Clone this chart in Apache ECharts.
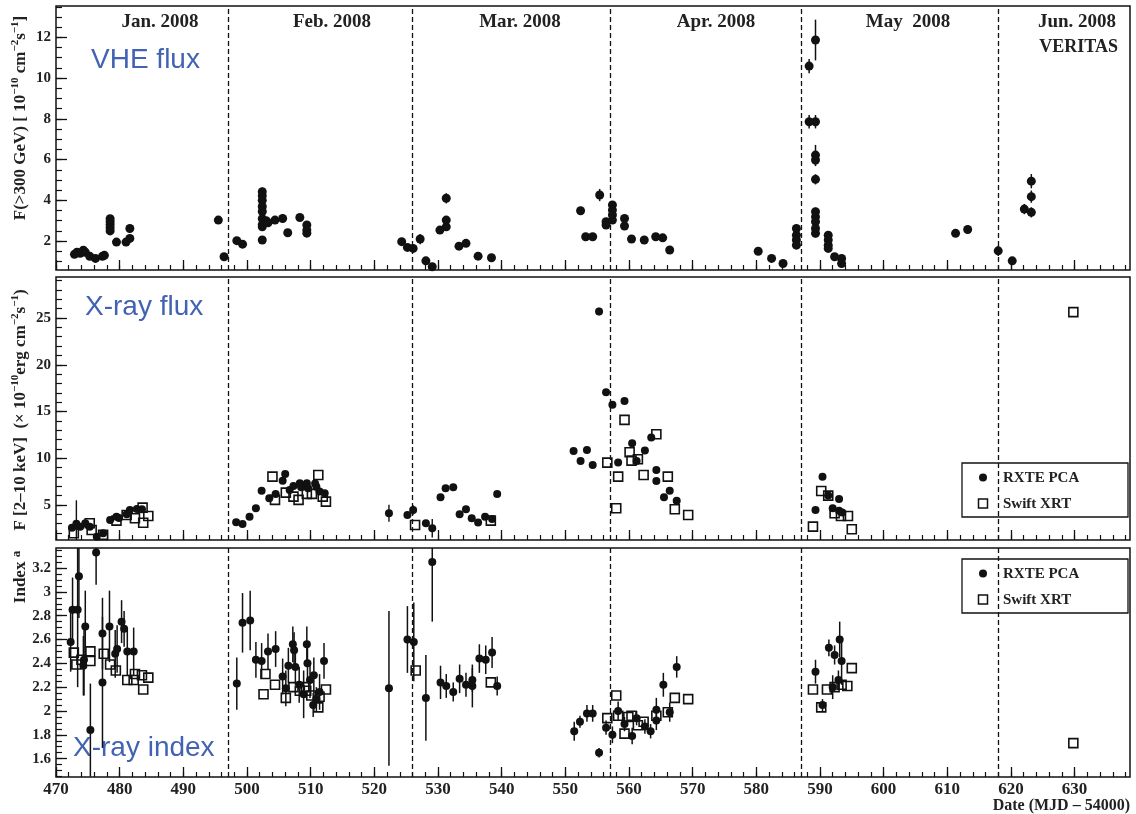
<!DOCTYPE html>
<html>
<head>
<meta charset="utf-8">
<script src="https://cdn.jsdelivr.net/npm/echarts@6/dist/echarts.min.js"></script>
<style>
  html, body { margin: 0; padding: 0; background: #fff; }
  #chart { width: 1136px; height: 814px; }
</style>
</head>
<body>
<div id="chart"></div>
<script>
// Mrk 421 multiwavelength light curves, Jan - Jun 2008 (MJD - 54000)

// Month boundaries (start of Feb .. Jun) and month headers
const monthEdges = [497, 526, 557, 587, 618];
const monthNames = ['Jan. 2008', 'Feb. 2008', 'Mar. 2008', 'Apr. 2008', 'May  2008', 'Jun. 2008'];

// Axis tick values
const xMajorTicks = [470, 480, 490, 500, 510, 520, 530, 540, 550, 560, 570, 580, 590, 600, 610, 620, 630];
const vheTicks = [2, 4, 6, 8, 10, 12];
const xrayTicks = [5, 10, 15, 20, 25];
const indexTicks = [1.6, 1.8, 2, 2.2, 2.4, 2.6, 2.8, 3, 3.2];

// VERITAS F(>300 GeV) [1e-10 cm^-2 s^-1]: [MJD-54000, flux, error]
const vheFlux = [
  [472.9, 1.35, 0.1], [473.3, 1.45, 0.1], [473.8, 1.40, 0.1], [474.3, 1.55, 0.1], [474.6, 1.45, 0.1],
  [475.3, 1.25, 0.1], [476.2, 1.15, 0.1], [477.3, 1.25, 0.1], [477.6, 1.30, 0.1],
  [478.5, 3.10, 0.15], [478.5, 2.95, 0.15], [478.5, 2.80, 0.15], [478.5, 2.65, 0.15], [478.5, 2.50, 0.15],
  [479.5, 1.95, 0.1], [481.0, 1.95, 0.1], [481.6, 2.62, 0.15], [481.6, 2.13, 0.15],
  [495.5, 3.03, 0.15], [496.4, 1.23, 0.15],
  [498.4, 2.02, 0.15], [499.3, 1.85, 0.15],
  [502.4, 4.42, 0.2], [502.4, 4.22, 0.2], [502.4, 4.00, 0.2], [502.4, 3.70, 0.2], [502.4, 3.45, 0.2],
  [502.4, 3.10, 0.2], [502.4, 2.80, 0.2], [502.4, 2.70, 0.2], [502.4, 2.05, 0.15],
  [503.0, 3.00, 0.15], [503.3, 2.90, 0.15], [504.4, 3.03, 0.15], [505.6, 3.11, 0.2], [506.4, 2.41, 0.15],
  [508.3, 3.16, 0.15], [509.4, 2.79, 0.15], [509.4, 2.54, 0.15], [509.4, 2.39, 0.15],
  [524.3, 1.97, 0.1], [525.2, 1.69, 0.1], [526.1, 1.64, 0.1], [527.2, 2.10, 0.25], [528.1, 1.03, 0.15],
  [529.1, 0.74, 0.15], [530.3, 2.54, 0.15], [531.3, 4.10, 0.25], [531.3, 3.03, 0.2], [531.3, 2.70, 0.2],
  [533.3, 1.75, 0.1], [534.4, 1.89, 0.1], [536.3, 1.26, 0.1], [538.4, 1.18, 0.1],
  [552.4, 3.49, 0.15], [553.2, 2.21, 0.15], [554.3, 2.21, 0.15], [555.4, 4.26, 0.3], [556.4, 2.79, 0.15],
  [556.4, 2.95, 0.15], [557.4, 3.77, 0.15], [557.4, 3.52, 0.15], [557.4, 3.28, 0.15], [557.4, 3.03, 0.15],
  [559.3, 3.11, 0.15], [559.3, 2.74, 0.15], [560.4, 2.10, 0.15], [562.4, 2.05, 0.1], [564.2, 2.21, 0.1],
  [565.3, 2.16, 0.1], [566.4, 1.56, 0.1], [580.3, 1.50, 0.1], [582.4, 1.15, 0.1], [584.2, 0.90, 0.1],
  [586.3, 2.62, 0.15], [586.3, 2.29, 0.15], [586.3, 2.05, 0.15], [586.3, 1.80, 0.15],
  [588.3, 10.59, 0.35], [589.3, 11.87, 1.0], [588.3, 7.86, 0.33], [589.3, 7.86, 0.33],
  [589.3, 6.22, 0.5], [589.3, 5.98, 0.3], [589.3, 5.03, 0.25],
  [589.3, 3.44, 0.2], [589.3, 3.19, 0.2], [589.3, 2.95, 0.2], [589.3, 2.62, 0.2], [589.3, 2.38, 0.2],
  [591.3, 2.29, 0.15], [591.3, 2.05, 0.15], [591.3, 1.80, 0.15], [591.3, 1.64, 0.15],
  [592.3, 1.23, 0.1], [593.4, 1.15, 0.1], [593.4, 0.90, 0.1],
  [611.3, 2.38, 0.15], [613.2, 2.57, 0.2],
  [618.0, 1.52, 0.25], [620.2, 1.03, 0.15], [622.1, 3.57, 0.25],
  [623.2, 4.94, 0.35], [623.2, 4.18, 0.3], [623.2, 3.41, 0.25]
];

// RXTE PCA F(2-10 keV) [1e-10 erg cm^-2 s^-1]: [MJD-54000, flux, error]
const pcaFlux = [
  [472.5, 2.57, 0.3], [473.2, 3.00, 2.5], [473.8, 2.68, 0.3], [474.6, 3.04, 0.3], [475.3, 2.68, 0.3],
  [476.4, 1.61, 0.3], [477.4, 1.97, 0.3], [478.5, 3.39, 0.3], [479.5, 3.75, 0.3], [479.9, 3.60, 0.3],
  [481.1, 4.00, 0.3], [481.6, 4.46, 0.3], [482.7, 4.57, 0.3], [483.5, 4.54, 0.3],
  [498.3, 3.15, 0.2], [499.3, 2.97, 0.2], [500.4, 3.75, 0.2], [501.4, 4.65, 0.2], [502.3, 6.53, 0.2],
  [503.5, 5.72, 0.2], [504.5, 6.18, 0.2], [505.6, 7.60, 0.2], [506.0, 8.32, 0.2], [506.7, 6.60, 0.2],
  [507.3, 7.03, 0.2], [508.3, 7.32, 0.2], [508.5, 6.90, 0.2], [509.4, 7.32, 0.2], [509.6, 6.79, 0.2],
  [510.7, 7.30, 0.2], [510.9, 6.96, 0.2], [511.4, 6.43, 0.2], [512.2, 6.25, 0.2],
  [522.3, 4.11, 0.9], [525.2, 3.93, 0.3], [526.1, 4.46, 0.5], [528.1, 3.04, 0.3], [529.1, 2.51, 1.0],
  [530.4, 5.82, 0.3], [531.2, 6.79, 0.3], [532.4, 6.89, 0.3], [533.4, 4.00, 0.3], [534.4, 4.54, 0.3],
  [535.3, 3.58, 0.3], [536.3, 3.11, 0.3], [537.4, 3.75, 0.3], [538.5, 3.50, 0.3], [539.3, 6.18, 0.3],
  [551.3, 10.78, 0.3], [552.4, 9.71, 0.3], [553.4, 10.89, 0.3], [554.3, 9.28, 0.3], [555.3, 25.70, 0.4],
  [556.4, 17.07, 0.3], [557.4, 15.71, 0.3], [558.3, 9.53, 0.3], [559.3, 16.13, 0.3], [560.5, 11.60, 0.3],
  [561.2, 9.70, 0.3], [562.5, 10.82, 0.3], [563.5, 12.21, 0.3], [564.3, 8.75, 0.3], [564.3, 7.57, 0.3],
  [565.5, 5.82, 0.3], [566.4, 6.53, 0.3], [567.5, 5.46, 0.3],
  [589.3, 4.46, 0.3], [590.4, 8.03, 0.3], [591.3, 6.00, 0.3], [592.0, 4.65, 0.3], [593.0, 5.64, 0.3],
  [593.0, 4.39, 0.3], [593.5, 4.18, 0.3]
];

// Swift XRT F(2-10 keV): [MJD-54000, flux]
const xrtFlux = [
  [472.8, 1.97], [475.3, 3.04], [475.6, 2.32], [477.4, 1.80], [479.5, 3.32], [481.1, 3.93],
  [482.4, 3.58], [483.6, 4.71], [483.7, 3.10], [484.5, 3.82],
  [504.0, 8.03], [504.4, 5.54], [506.1, 6.32], [507.3, 5.89], [508.1, 5.54], [509.4, 6.18],
  [510.2, 6.18], [511.2, 8.21], [511.9, 5.89], [512.4, 5.36],
  [526.4, 2.86], [538.3, 3.32],
  [556.6, 9.53], [558.0, 4.65], [558.3, 8.03], [559.3, 14.10], [560.1, 10.64], [560.4, 9.74],
  [561.4, 9.89], [562.3, 8.21], [564.3, 12.57], [566.1, 8.03], [567.2, 4.54], [569.3, 3.93],
  [588.9, 2.68], [590.2, 6.50], [591.3, 6.00], [592.3, 4.11], [593.3, 3.82], [594.4, 3.82], [595.0, 2.40],
  [629.8, 25.63]
];

// RXTE PCA photon index: [MJD-54000, index, error]
const pcaIndex = [
  [472.3, 2.58, 0.25], [472.6, 2.85, 0.27], [473.4, 2.85, 0.65], [473.6, 3.13, 0.35], [474.3, 2.38, 0.25],
  [474.4, 2.43, 0.3], [474.6, 2.71, 0.3], [475.4, 1.84, 0.39], [476.3, 3.33, 0.27], [477.3, 2.65, 0.3],
  [477.3, 2.24, 0.55], [478.4, 2.71, 0.3], [479.3, 2.48, 0.2], [479.6, 2.52, 0.2], [480.3, 2.75, 0.18],
  [480.7, 2.69, 0.15], [481.2, 2.50, 0.2], [482.2, 2.50, 0.2],
  [498.4, 2.23, 0.22], [499.3, 2.74, 0.25], [500.5, 2.76, 0.25], [501.4, 2.43, 0.15], [502.3, 2.42, 0.15],
  [503.3, 2.50, 0.15], [504.5, 2.52, 0.15], [505.6, 2.29, 0.15], [506.1, 2.19, 0.15], [506.5, 2.38, 0.15],
  [507.2, 2.56, 0.15], [507.4, 2.51, 0.15], [507.6, 2.37, 0.15], [508.2, 2.22, 0.15], [508.9, 2.14, 0.2],
  [509.4, 2.56, 0.15], [509.5, 2.40, 0.15], [509.9, 2.26, 0.15], [510.4, 2.05, 0.1], [510.5, 2.30, 0.15],
  [510.9, 2.10, 0.1], [511.4, 2.16, 0.15], [512.1, 2.42, 0.15],
  [522.3, 2.19, 0.65], [525.2, 2.60, 0.28], [526.2, 2.58, 0.33], [528.1, 2.11, 0.36], [529.1, 3.25, 0.5],
  [530.4, 2.24, 0.14], [531.3, 2.21, 0.1], [532.4, 2.16, 0.08], [533.4, 2.27, 0.12], [534.4, 2.22, 0.1],
  [535.4, 2.26, 0.1], [535.4, 2.21, 0.18], [536.5, 2.44, 0.12], [537.5, 2.43, 0.12], [538.5, 2.49, 0.13],
  [539.3, 2.21, 0.08],
  [551.4, 1.83, 0.08], [552.3, 1.91, 0.05], [553.4, 1.98, 0.07], [554.3, 1.98, 0.07], [555.3, 1.65, 0.04],
  [556.4, 1.86, 0.06], [557.4, 1.80, 0.07], [558.3, 2.00, 0.08], [559.3, 1.89, 0.06], [560.5, 1.79, 0.07],
  [561.2, 1.94, 0.06], [562.5, 1.87, 0.06], [563.4, 1.83, 0.06], [564.3, 2.01, 0.1], [564.3, 1.92, 0.08],
  [565.4, 2.22, 0.1], [566.4, 1.99, 0.08], [567.5, 2.37, 0.09],
  [589.3, 2.33, 0.1], [590.4, 2.05, 0.05], [591.4, 2.53, 0.07], [592.0, 2.20, 0.1], [592.3, 2.47, 0.08],
  [592.9, 2.26, 0.08], [593.1, 2.60, 0.15], [593.4, 2.42, 0.2]
];

// Swift XRT photon index: [MJD-54000, index]
const xrtIndex = [
  [472.8, 2.49], [473.2, 2.39], [474.0, 2.43], [475.4, 2.50], [475.4, 2.42], [477.5, 2.48], [478.5, 2.39],
  [479.4, 2.34], [481.2, 2.26], [482.2, 2.26], [482.4, 2.31], [483.5, 2.30], [483.7, 2.18], [484.5, 2.28],
  [502.6, 2.14], [502.9, 2.31], [504.4, 2.22], [506.1, 2.11], [507.3, 2.20], [508.3, 2.17], [509.0, 2.20],
  [509.3, 2.17], [510.1, 2.13], [511.2, 2.03], [511.4, 2.12], [512.4, 2.18],
  [526.5, 2.34], [538.3, 2.24],
  [556.6, 1.94], [558.0, 2.13], [558.3, 1.96], [559.3, 1.81], [559.9, 1.95], [560.4, 1.96], [561.4, 1.88],
  [562.3, 1.91], [564.3, 1.96], [566.1, 1.99], [567.2, 2.11], [569.3, 2.10],
  [588.9, 2.18], [590.2, 2.03], [591.1, 2.18], [592.3, 2.20], [593.4, 2.22], [594.3, 2.21], [595.0, 2.36],
  [629.8, 1.73]
];

// ---------------------------------------------------------------------------
const INK = '#111';
const BLUE = '#4263b3';
const SERIF = "'Liberation Serif', 'Times New Roman', serif";
const SANS = "'Liberation Sans', Arial, sans-serif";
const X_MIN = 470, X_MAX = 638.7;

function stepValues(from, to, step) {
  const out = [];
  for (let v = from; v <= to + 1e-9; v += step) out.push(Math.round(v * 1000) / 1000);
  return out;
}

const grids = [
  { left: 56, right: 6, top: 6, height: 264 },
  { left: 56, right: 6, top: 277, height: 263 },
  { left: 56, right: 6, top: 548, height: 229 }
].map(g => Object.assign({ show: true, borderColor: INK, borderWidth: 1.5, backgroundColor: 'transparent' }, g));

const tickLabel = { fontFamily: SERIF, fontWeight: 'bold', color: '#222' };

function xAxes(gridIndex, withLabels) {
  const base = { type: 'value', gridIndex, min: X_MIN, max: X_MAX, position: 'bottom', splitLine: { show: false } };
  return [
    Object.assign({}, base, {
      axisLine: { show: false },
      axisTick: { show: true, inside: true, length: 10, customValues: xMajorTicks, lineStyle: { color: INK, width: 1.3 } },
      axisLabel: withLabels
        ? Object.assign({ show: true, fontSize: 17, margin: 4, customValues: xMajorTicks }, tickLabel)
        : { show: false }
    }),
    Object.assign({}, base, {
      axisLine: { show: false },
      axisTick: { show: true, inside: true, length: 5, customValues: stepValues(470, 638, 2), lineStyle: { color: INK, width: 1.2 } },
      axisLabel: { show: false }
    })
  ];
}

function yAxes(gridIndex, min, max, major, minorStep, minorFrom) {
  const base = { type: 'value', gridIndex, min, max, position: 'left', splitLine: { show: false } };
  return [
    Object.assign({}, base, {
      axisLine: { show: false },
      axisTick: { show: true, inside: true, length: 11, customValues: major, lineStyle: { color: INK, width: 1.3 } },
      axisLabel: Object.assign({ show: true, fontSize: 15, margin: 5, customValues: major,
        formatter: v => String(Math.round(v * 10) / 10) }, tickLabel)
    }),
    Object.assign({}, base, {
      axisLine: { show: false },
      axisTick: { show: true, inside: true, length: 6, customValues: stepValues(minorFrom, max, minorStep), lineStyle: { color: INK, width: 1.2 } },
      axisLabel: { show: false }
    })
  ];
}

const xAxis = [].concat(xAxes(0, false), xAxes(1, false), xAxes(2, true));
const yAxis = [].concat(
  yAxes(0, 0.58, 13.54, vheTicks, 0.5, 1.0),
  yAxes(1, 1.25, 29.39, xrayTicks, 1, 2),
  yAxes(2, 1.446, 3.368, indexTicks, 0.05, 1.45)
);

const monthLines = {
  silent: true,
  symbol: 'none',
  label: { show: false },
  lineStyle: { color: INK, type: [5, 3], width: 1.3 },
  data: monthEdges.map(v => ({ xAxis: v }))
};

function errorBars(data, panel, width) {
  return {
    type: 'custom',
    xAxisIndex: panel * 2,
    yAxisIndex: panel * 2,
    silent: true,
    z: 2,
    data,
    encode: { x: 0, y: 1 },
    renderItem(params, api) {
      const cs = params.coordSys;
      const x = api.value(0), y = api.value(1), e = api.value(2);
      const top = api.coord([x, y + e]);
      const bot = api.coord([x, y - e]);
      const y1 = Math.max(cs.y, top[1]);
      const y2 = Math.min(cs.y + cs.height, bot[1]);
      return {
        type: 'line',
        shape: { x1: top[0], y1, x2: top[0], y2 },
        style: { stroke: INK, lineWidth: width }
      };
    }
  };
}

function dots(name, data, panel, size, withLines) {
  const s = {
    type: 'scatter',
    name,
    xAxisIndex: panel * 2,
    yAxisIndex: panel * 2,
    symbol: 'circle',
    symbolSize: size,
    itemStyle: { color: INK, opacity: 1 },
    data: data.map(d => [d[0], d[1]]),
    z: 3,
    silent: true
  };
  if (withLines) s.markLine = monthLines;
  return s;
}

function squares(name, data, panel) {
  return {
    type: 'scatter',
    name,
    xAxisIndex: panel * 2,
    yAxisIndex: panel * 2,
    symbol: 'rect',
    symbolSize: 9,
    itemStyle: { color: 'rgba(255,255,255,0)', borderColor: INK, borderWidth: 1.6, opacity: 1 },
    data,
    z: 4,
    silent: true
  };
}

const series = [
  errorBars(vheFlux, 0, 1.5),
  dots('VERITAS', vheFlux, 0, 9, true),
  errorBars(pcaFlux, 1, 1.4),
  dots('RXTE PCA', pcaFlux, 1, 8, true),
  squares('Swift XRT', xrtFlux, 1),
  errorBars(pcaIndex, 2, 1.5),
  dots('RXTE PCA', pcaIndex, 2, 8, true),
  squares('Swift XRT', xrtIndex, 2)
];

// Text annotations and legend boxes
function txt(x, y, text, font, opts) {
  return Object.assign({
    type: 'text', x, y, silent: true,
    style: Object.assign({ text, font, fill: '#222', align: 'center', verticalAlign: 'middle' }, opts || {})
  });
}
const monthCentres = [160, 332, 520, 716, 908, 1077];
const headerFont = "bold 19px " + SERIF;
const graphics = monthNames.map((m, i) => txt(monthCentres[i], 22, m, headerFont));
graphics.push(txt(1118, 47, 'VERITAS', "bold 18px " + SERIF, { align: 'right' }));

const panelFont = "28px " + SANS;
graphics.push(txt(91, 60, 'VHE flux', panelFont, { align: 'left', fill: BLUE }));
graphics.push(txt(85, 307, 'X-ray flux', panelFont, { align: 'left', fill: BLUE }));
graphics.push(txt(73, 748, 'X-ray index', panelFont, { align: 'left', fill: BLUE }));

graphics.push(txt(1130, 806, 'Date (MJD \u2013 54000)', "bold 16px " + SERIF, { align: 'right' }));

// Rotated axis titles with superscripts
const titleRich = {
  b: { fontFamily: SERIF, fontWeight: 'bold', fontSize: 17, lineHeight: 22, fill: '#222' },
  s: { fontFamily: SERIF, fontWeight: 'bold', fontSize: 11, lineHeight: 12, verticalAlign: 'top', fill: '#222' },
  a: { fontFamily: SERIF, fontWeight: 'bold', fontSize: 13, lineHeight: 17, verticalAlign: 'top', fill: '#222' }
};
function vtitle(cx, cy, text) {
  return {
    type: 'text', x: cx, y: cy, rotation: Math.PI / 2, silent: true,
    style: { text, rich: titleRich, align: 'center', verticalAlign: 'middle' }
  };
}
graphics.push(vtitle(21, 118, '{b|F(>300 GeV) [ 10}{s|\u221210}{b| cm}{s|\u22122}{b|s}{s|\u22121}{b|]}'));
graphics.push(vtitle(21, 410, '{b|F [2\u201310 keV]  (\u00d7 10}{s|\u221210}{b|erg cm}{s|\u22122}{b|s}{s|\u22121}{b|)}'));
graphics.push(vtitle(21, 577, '{b|Index }{a|a}'));

function legendBox(top) {
  const items = [];
  items.push({ type: 'rect', silent: true, shape: { x: 962, y: top, width: 166, height: 54 },
    style: { fill: 'none', stroke: INK, lineWidth: 1.3 } });
  items.push({ type: 'circle', silent: true, shape: { cx: 983, cy: top + 14.5, r: 4 }, style: { fill: INK } });
  items.push({ type: 'rect', silent: true, shape: { x: 978.5, y: top + 36, width: 9, height: 9 },
    style: { fill: 'none', stroke: INK, lineWidth: 1.5 } });
  items.push(txt(1003, top + 15, 'RXTE PCA', "bold 15px " + SERIF, { align: 'left' }));
  items.push(txt(1003, top + 41, 'Swift XRT', "bold 15px " + SERIF, { align: 'left' }));
  return items;
}
graphics.push.apply(graphics, legendBox(463));
graphics.push.apply(graphics, legendBox(559));

const chart = echarts.init(document.getElementById('chart'), null, { renderer: 'canvas' });
chart.setOption({
  animation: false,
  backgroundColor: '#fff',
  grid: grids,
  xAxis,
  yAxis,
  series,
  graphic: graphics
});
</script>
</body>
</html>
